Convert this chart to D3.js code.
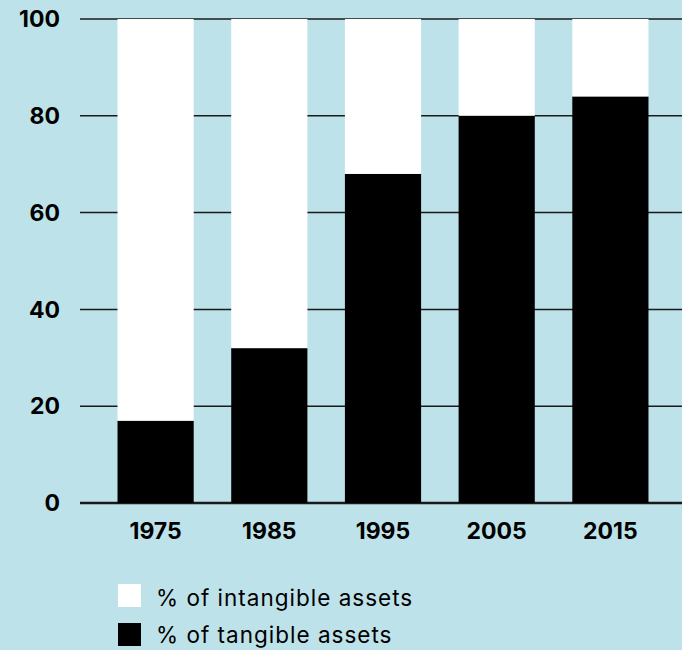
<!DOCTYPE html>
<html>
<head>
<meta charset="utf-8">
<script src="https://cdn.jsdelivr.net/npm/d3@7.9.0/dist/d3.min.js"></script>
<style>
  html, body { margin: 0; padding: 0; background: #bee2e9; }
  svg { display: block; font-family: Inter, "Open Sans", sans-serif; }
</style>
</head>
<body>
<svg id="chart" width="682" height="650"></svg>
<script>
// data
const years = ['1975', '1985', '1995', '2005', '2015'];
const tangible = [17, 32, 68, 80, 84];
const intangible = [83, 68, 32, 20, 16];
const yTicks = [0, 20, 40, 60, 80, 100];
const seriesNames = ['% of intangible assets', '% of tangible assets'];
const seriesColors = ['#ffffff', '#000000'];

const svg = d3.select('#chart');
const width = 682;

const x = d3.scaleBand().domain(years).range([80, 686]).paddingInner(0.33).paddingOuter(0.33);
const y = d3.scaleLinear().domain([0, 100]).range([503, 19]);

// gridlines
svg.append('g')
  .selectAll('line')
  .data(yTicks)
  .enter()
  .append('line')
  .attr('x1', 80)
  .attr('x2', width)
  .attr('y1', (d) => y(d))
  .attr('y2', (d) => y(d))
  .attr('stroke', '#1a1a1a')
  .attr('stroke-width', (d) => (d === 0 ? 2.5 : 1.5));

// stacked bars
const rows = years.map((yr, i) => ({ year: yr, tangible: tangible[i], intangible: intangible[i] }));
const stack = d3.stack().keys(['tangible', 'intangible']);
const layers = stack(rows);
const colorOf = { tangible: seriesColors[1], intangible: seriesColors[0] };

svg.append('g')
  .selectAll('g')
  .data(layers)
  .enter()
  .append('g')
  .attr('fill', (d) => colorOf[d.key])
  .selectAll('rect')
  .data((d) => d)
  .enter()
  .append('rect')
  .attr('x', (d) => x(d.data.year))
  .attr('width', x.bandwidth())
  .attr('y', (d) => y(d[1]))
  .attr('height', (d) => y(d[0]) - y(d[1]));

// y tick labels
svg.append('g')
  .selectAll('text')
  .data(yTicks)
  .enter()
  .append('text')
  .attr('x', 60)
  .attr('y', (d) => y(d))
  .attr('dy', '0.36em')
  .attr('text-anchor', 'end')
  .attr('font-size', 23)
  .attr('font-weight', 700)
  .attr('fill', '#000')
  .text((d) => d);

// x tick labels
svg.append('g')
  .selectAll('text')
  .data(years)
  .enter()
  .append('text')
  .attr('x', (d) => x(d) + x.bandwidth() / 2)
  .attr('y', 531)
  .attr('dy', '0.36em')
  .attr('text-anchor', 'middle')
  .attr('font-size', 23)
  .attr('font-weight', 700)
  .attr('fill', '#000')
  .text((d) => d);

// legend
const legend = svg.append('g').attr('transform', 'translate(118,584)');
seriesNames.forEach((name, i) => {
  const g = legend.append('g').attr('transform', `translate(0,${i * 39})`);
  g.append('rect').attr('width', 23).attr('height', 23).attr('fill', seriesColors[i]);
  g.append('text')
    .attr('x', 38)
    .attr('y', 22 - i * 2)
    .attr('font-size', 22.5)
    .attr('letter-spacing', 1)
    .attr('fill', '#000')
    .text(name);
});
</script>
</body>
</html>
